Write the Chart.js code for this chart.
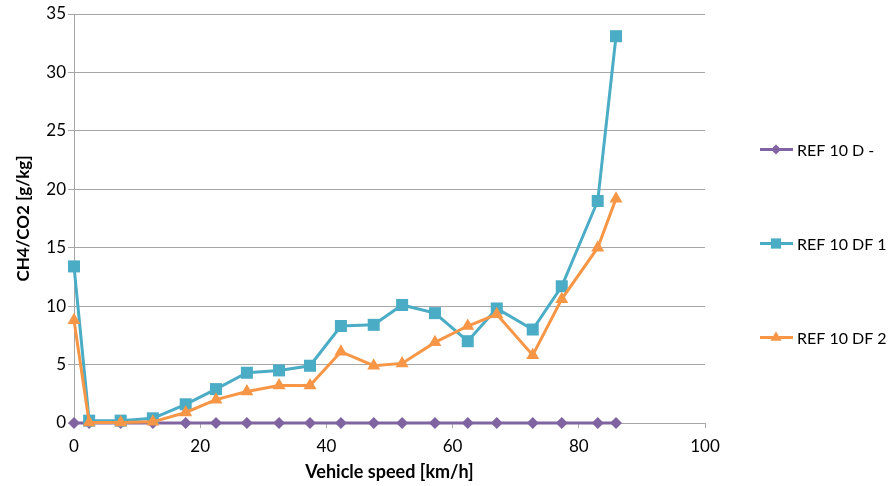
<!DOCTYPE html>
<html>
<head>
<meta charset="utf-8">
<script src="https://cdn.jsdelivr.net/npm/chart.js@4.4.1/dist/chart.umd.min.js"></script>
<style>
  html, body { margin: 0; padding: 0; background: #fff; }
  #wrap { width: 894px; height: 486px; }
</style>
</head>
<body>
<div id="wrap"><canvas id="ch4Chart" width="894" height="486"></canvas></div>
<script>
// vehicle speed [km/h]
const speeds = [0, 2.4, 7.4, 12.5, 17.7, 22.5, 27.4, 32.5, 37.4, 42.3, 47.5, 52.0, 57.2, 62.4, 67.0, 72.7, 77.3, 83.0, 85.9]
const ref10D = [0, 0, 0, 0, 0, 0, 0, 0, 0, 0, 0, 0, 0, 0, 0, 0, 0, 0, 0]
const ref10DF1 = [13.4, 0.2, 0.2, 0.4, 1.6, 2.9, 4.3, 4.5, 4.9, 8.3, 8.4, 10.1, 9.4, 7.0, 9.8, 8.0, 11.7, 19.0, 33.1]
const ref10DF2 = [8.8, 0.05, 0.05, 0.1, 0.9, 2.0, 2.7, 3.2, 3.2, 6.1, 4.9, 5.1, 6.9, 8.3, 9.3, 5.8, 10.6, 15.0, 19.2]
const seriesNames = ['REF 10 D -', 'REF 10 DF 1', 'REF 10 DF 2']
const xTicks = [0, 20, 40, 60, 80, 100]
const yTicks = [0, 5, 10, 15, 20, 25, 30, 35]

const FONT = 'Lato, "Open Sans", sans-serif'

const toPoints = (vals) => speeds.map((s, i) => ({ x: s, y: vals[i] }))

// later series sit on top, as in the original
const datasets = [
  { label: seriesNames[0], data: toPoints(ref10D), borderColor: '#8064A2', backgroundColor: '#8064A2', pointStyle: 'rectRot', pointRadius: 6, order: 3 },
  { label: seriesNames[1], data: toPoints(ref10DF1), borderColor: '#4BACC6', backgroundColor: '#4BACC6', pointStyle: 'rect', pointRadius: 8.5, order: 2 },
  { label: seriesNames[2], data: toPoints(ref10DF2), borderColor: '#F79646', backgroundColor: '#F79646', pointStyle: 'triangle', pointRadius: 7.5, order: 1 },
].map(d => ({ ...d, borderWidth: 3, pointBorderWidth: 0, tension: 0, clip: false, pointHoverRadius: d.pointRadius }))

// legend on the right: a short line with the marker on it, then the name
const sideLegend = {
  id: 'sideLegend',
  afterDraw(chart) {
    const { ctx, chartArea } = chart
    const x0 = chartArea.right + 55
    const mid = (chartArea.top + chartArea.bottom) / 2 + 25
    const gap = 94
    chart.data.datasets.forEach((ds, i) => {
      const y = mid + (i - 1) * gap
      ctx.save()
      ctx.strokeStyle = ds.borderColor
      ctx.lineWidth = 3
      ctx.beginPath()
      ctx.moveTo(x0, y)
      ctx.lineTo(x0 + 33, y)
      ctx.stroke()
      ctx.fillStyle = ds.backgroundColor
      Chart.helpers.drawPoint(ctx, { pointStyle: ds.pointStyle, radius: ds.pointRadius * 0.85, borderWidth: 0 }, x0 + 16, y)
      ctx.fillStyle = '#000'
      ctx.font = '16px ' + FONT
      ctx.textBaseline = 'middle'
      ctx.textAlign = 'left'
      ctx.fillText(ds.label, x0 + 37, y + 1)
      ctx.restore()
    })
  }
}

new Chart(document.getElementById('ch4Chart'), {
  type: 'line',
  data: { datasets },
  options: {
    responsive: false,
    animation: false,
    layout: { padding: { left: 0, right: 189, top: 14, bottom: 0 } },
    plugins: { legend: { display: false }, tooltip: { enabled: false } },
    scales: {
      x: {
        type: 'linear',
        min: 0,
        max: 100,
        afterBuildTicks: (axis) => { axis.ticks = xTicks.map(v => ({ value: v })) },
        afterFit: (axis) => { axis.height = 63 },
        border: { color: '#a6a6a6', width: 1 },
        grid: { drawOnChartArea: false, color: '#a6a6a6', tickLength: 5 },
        ticks: { color: '#000', font: { family: FONT, size: 17 }, padding: 8, maxRotation: 0 },
        title: { display: true, text: 'Vehicle speed [km/h]', color: '#000', font: { family: FONT, size: 18, weight: 'bold' }, padding: { top: 0, bottom: 3 } },
      },
      y: {
        min: 0,
        max: 35,
        afterBuildTicks: (axis) => { axis.ticks = yTicks.map(v => ({ value: v })) },
        afterFit: (axis) => { axis.width = 74 },
        border: { color: '#a6a6a6', width: 1 },
        grid: { color: '#a6a6a6', tickLength: 6 },
        ticks: { color: '#000', font: { family: FONT, size: 17 }, padding: 2 },
        title: { display: true, text: 'CH4/CO2 [g/kg]', color: '#000', font: { family: FONT, size: 17, weight: 'bold' }, padding: { top: 13, bottom: 0 } },
      },
    },
  },
  plugins: [sideLegend],
})
</script>
</body>
</html>
